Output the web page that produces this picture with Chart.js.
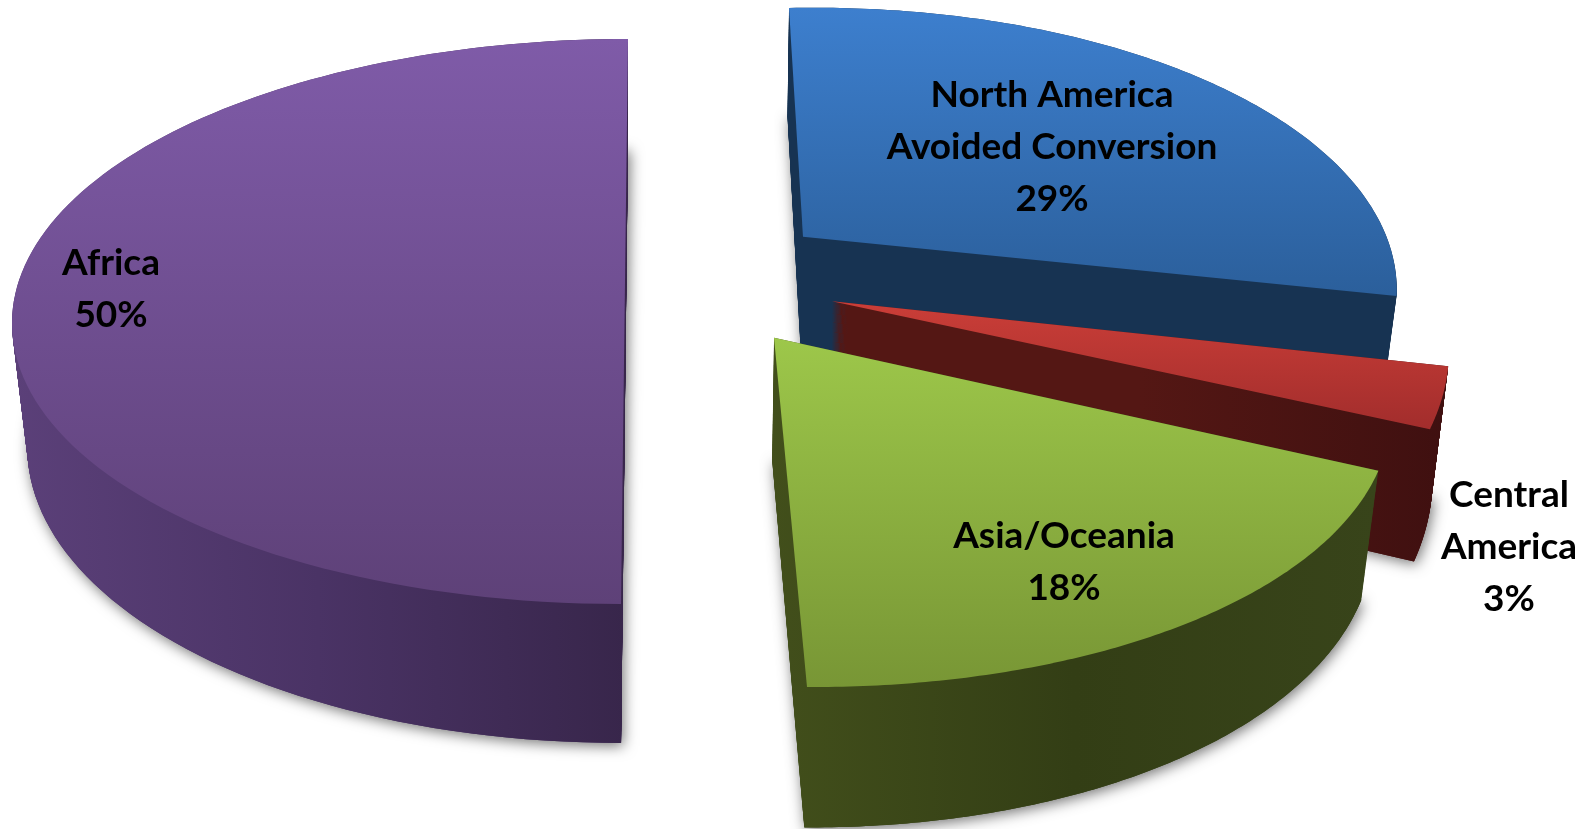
<!DOCTYPE html>
<html>
<head>
<meta charset="utf-8">
<title>Share by region</title>
<script src="https://cdn.jsdelivr.net/npm/chart.js@4"></script>
<style>
    html, body { margin: 0; padding: 0; background: #fff; }
    canvas { display: block; }
</style>
</head>
<body>
<canvas id="regionChart" width="1596" height="829"></canvas>
<script>
// Chart data
const regions = ['Africa', 'North America Avoided Conversion', 'Central America', 'Asia/Oceania'];
const shares = [50, 29, 3, 18];
const labelLines = [['Africa'], ['North America', 'Avoided Conversion'], ['Central', 'America'], ['Asia/Oceania']];

// Colours: top face gradient and side wall gradient (left to right)
const topColors = [['#7F5BA8', '#5E4178'], ['#3D7FCE', '#2B5F9B'], ['#CB3E38', '#A22D2C'], ['#9DC74A', '#789635']];
const wallColors = [['#5B4079', '#4A3365', '#38264B'], ['#173352', '#173352', '#173352'], ['#541714', '#541714', '#3F1010'], ['#424F1B', '#333E15', '#38441A']];

// Ellipse each slice sits on, and how far its side wall drops
const sliceViews = [
    { cx: 624.5, cy: 321.5, rx: 612.5, ry: 282.5, skew: -3.5, tilt: 0, dx: 0, dy: 124, y0: 39, y1: 604, x0: 12, x1: 625 },
    { cx: 806.5, cy: 294, rx: 590, ry: 286, skew: 17.5, tilt: -12.6, dx: -2, dy: 123, y0: 8, y1: 296, x0: 790, x1: 1396 },
    { cx: 832, cy: 365, rx: 617, ry: 319, skew: 0, tilt: -15, dx: -1, dy: 129, y0: 301, y1: 429, x0: 830, x1: 1448 },
    { cx: 779.5, cy: 396, rx: 611, ry: 291, skew: 27.5, tilt: 3, dx: -2, dy: 125, y0: 338, y1: 687, x0: 770, x1: 1378 }
];
const labelSpots = [[111, 263], [1052, 94.7], [1509, 495], [1064, 536.5]];

const perspective = -0.2;
const wallSpreadX = 0.025;
const wallSpreadY = 0.053;

// Project a point of the unit circle onto a slice's ellipse with perspective
function project(angle, view, t) {
    const u = Math.cos(angle);
    const v = Math.sin(angle);
    return liftPoint(u, v, view, t);
}

function liftPoint(u, v, view, t) {
    const den = 1 + perspective * v;
    const up = u * Math.sqrt(1 - perspective * perspective) / den;
    const vp = (v + perspective) / den;
    const x = view.cx + view.rx * up + view.skew * vp;
    const y = view.cy + view.ry * vp + view.tilt * up;
    return [
        x + t * (view.dx - wallSpreadX * (x - view.cx)),
        y + t * (view.dy + wallSpreadY * (y - view.cy))
    ];
}

function tracePath(ctx, arc, view, t) {
    ctx.beginPath();
    const apex = liftPoint(0, 0, view, t);
    ctx.moveTo(apex[0], apex[1]);
    const steps = 120;
    for (let i = 0; i <= steps; i++) {
        const angle = arc.startAngle + (arc.endAngle - arc.startAngle) * i / steps;
        const p = project(angle, view, t);
        ctx.lineTo(p[0], p[1]);
    }
    ctx.closePath();
}

// Slices are extruded, so the plugin paints them from the arc elements' angles
const extrudedPie = {
    id: 'extrudedPie',
    beforeDatasetDraw(chart, args) {
        const ctx = chart.ctx;
        args.meta.data.forEach((arc, i) => {
            const view = sliceViews[i];

            ctx.save();
            ctx.shadowColor = 'rgba(0,0,0,0.55)';
            ctx.shadowBlur = 14;
            ctx.shadowOffsetX = 2;
            ctx.shadowOffsetY = 3;
            ctx.fillStyle = wallColors[i][1];
            tracePath(ctx, arc, view, 1);
            ctx.fill();
            ctx.restore();

            const wall = ctx.createLinearGradient(view.x0, 0, view.x1, 0);
            wallColors[i].forEach((c, n) => wall.addColorStop(n / (wallColors[i].length - 1), c));
            ctx.fillStyle = wall;
            for (let s = view.dy; s >= 0; s--) {
                tracePath(ctx, arc, view, s / view.dy);
                ctx.fill();
            }

            const top = ctx.createLinearGradient(0, view.y0, 0, view.y1);
            top.addColorStop(0, topColors[i][0]);
            top.addColorStop(1, topColors[i][1]);
            ctx.fillStyle = top;
            tracePath(ctx, arc, view, 0);
            ctx.fill();
        });
        return false;
    },
    afterDraw(chart) {
        const ctx = chart.ctx;
        ctx.save();
        ctx.fillStyle = '#000';
        ctx.font = 'bold 37px Lato';
        ctx.textAlign = 'center';
        ctx.textBaseline = 'middle';
        labelLines.forEach((lines, i) => {
            const rows = lines.concat(shares[i] + '%');
            rows.forEach((text, r) => ctx.fillText(text, labelSpots[i][0], labelSpots[i][1] + r * 52));
        });
        ctx.restore();
    }
};

new Chart(document.getElementById('regionChart').getContext('2d'), {
    type: 'pie',
    data: {
        labels: regions,
        datasets: [{ data: shares, borderWidth: 0 }]
    },
    options: {
        responsive: false,
        animation: false,
        rotation: 180,
        plugins: { legend: { display: false }, tooltip: { enabled: false } }
    },
    plugins: [extrudedPie]
});
</script>
</body>
</html>
